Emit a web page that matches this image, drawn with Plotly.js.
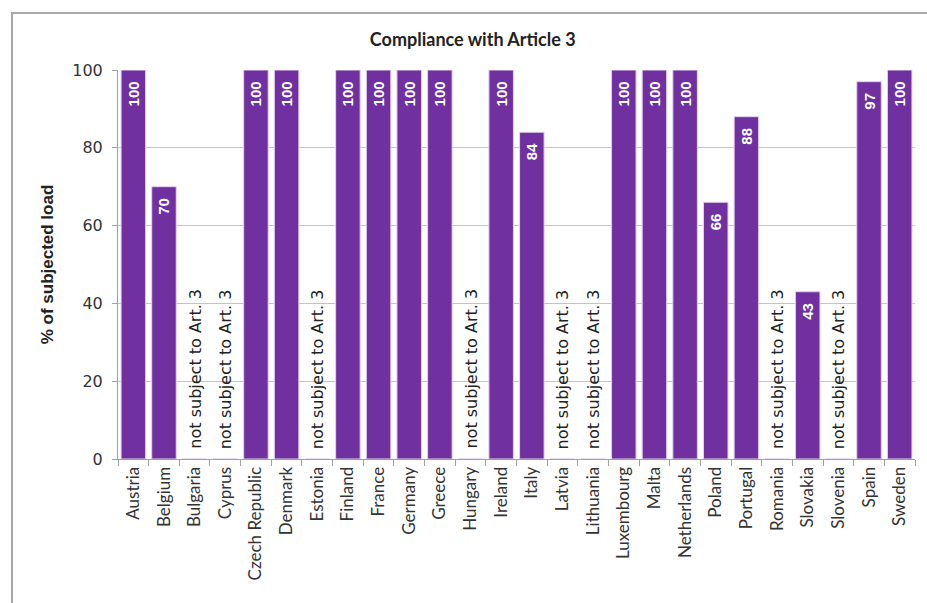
<!DOCTYPE html>
<html>
<head>
<meta charset="utf-8">
<script src="https://cdn.plot.ly/plotly-3.0.1.min.js"></script>
<style>
  html, body { margin: 0; padding: 0; background: #fff; overflow: hidden; }
  #chart { width: 927px; height: 603px; }
  #frame { position: absolute; left: 11px; top: 12px; width: 940px; height: 640px;
           border: 2px solid #a8a8a8; pointer-events: none; }
</style>
</head>
<body>
<div id="chart"></div>
<div id="frame"></div>
<script>
const countries = ["Austria","Belgium","Bulgaria","Cyprus","Czech Republic","Denmark","Estonia",
  "Finland","France","Germany","Greece","Hungary","Ireland","Italy","Latvia","Lithuania",
  "Luxembourg","Malta","Netherlands","Poland","Portugal","Romania","Slovakia","Slovenia","Spain","Sweden"];
// null = not subject to Art. 3
const compliance = [100,70,null,null,100,100,null,100,100,100,100,null,100,84,null,null,
  100,100,100,66,88,null,43,null,97,100];
const notSubjectLabel = "not subject to Art. 3";
const chartTitle = "Compliance with Article 3";
const yTitle = "% of subjected load";

const labels = compliance.map(v => v === null ? "" : String(Math.round(v)) + "  ");

const trace = {
  type: "bar",
  x: countries,
  y: compliance.map(v => v === null ? 0 : v),
  text: labels,
  textposition: "inside",
  insidetextanchor: "end",
  textangle: -90,
  constraintext: "none",
  cliponaxis: false,
  textfont: { family: "Liberation Sans, Arial, sans-serif", size: 15, color: "#ffffff", weight: "bold" },
  marker: { color: "#7030a0", line: { color: "#e2d2ee", width: 1 } },
  hoverinfo: "x+y"
};

const annotations = [];
countries.forEach((c, i) => {
  if (compliance[i] === null) {
    annotations.push({
      x: c, y: 0, xref: "x", yref: "y",
      text: notSubjectLabel, showarrow: false,
      textangle: -90, xanchor: "center", yanchor: "bottom", yshift: 8,
      font: { family: "DejaVu Sans, Verdana, sans-serif", size: 16, color: "#222222" }
    });
  }
});

const layout = {
  width: 927, height: 603,
  margin: { l: 118, r: 12, t: 70, b: 144, pad: 0 },
  paper_bgcolor: "#ffffff", plot_bgcolor: "#ffffff",
  bargap: 0.2,
  showlegend: false,
  title: {
    text: "<b>" + chartTitle + "</b>",
    x: 0.51, xref: "container", xanchor: "center",
    y: 0.934, yref: "container", yanchor: "middle",
    font: { family: "Lato, Calibri, sans-serif", size: 18, color: "#222222" }
  },
  xaxis: {
    type: "category",
    tickangle: -90,
    ticks: "outside", tickson: "boundaries", ticklen: 6, tickcolor: "#a0a0a0",
    showline: true, linecolor: "#a0a0a0", linewidth: 1,
    showgrid: false,
    tickfont: { family: "Lato, Calibri, sans-serif", size: 17, color: "#333333" },
    automargin: false
  },
  yaxis: {
    range: [0, 100],
    dtick: 20,
    ticks: "outside", ticklen: 5, tickcolor: "#a0a0a0",
    ticklabelstandoff: 6,
    showline: true, linecolor: "#a0a0a0", linewidth: 1,
    showgrid: true, gridcolor: "#c4c4c4", gridwidth: 1,
    zeroline: false,
    tickfont: { family: "DejaVu Sans, Verdana, sans-serif", size: 16, color: "#333333" },
    title: {
      text: "<b>" + yTitle + "</b>",
      standoff: 14,
      font: { family: "Liberation Sans, Arial, sans-serif", size: 17, color: "#222222" }
    },
    automargin: false
  },
  annotations: annotations
};

Plotly.newPlot("chart", [trace], layout, { displayModeBar: false, staticPlot: true });
</script>
</body>
</html>
